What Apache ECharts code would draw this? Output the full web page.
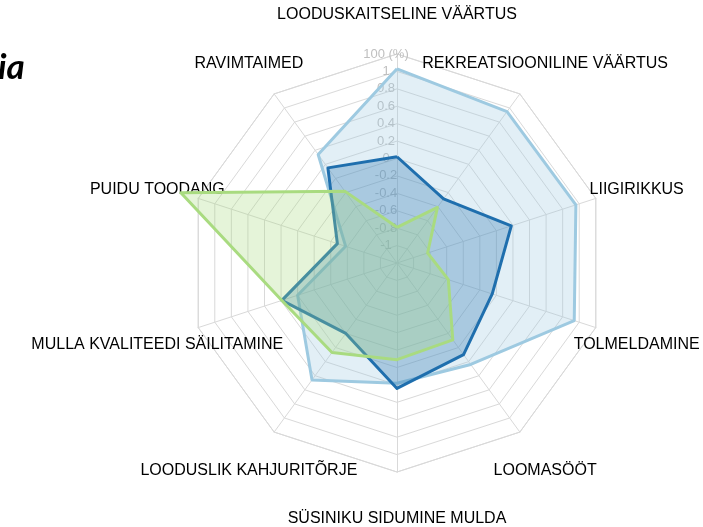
<!DOCTYPE html>
<html>
<head>
<meta charset="utf-8">
<script src="https://cdn.jsdelivr.net/npm/echarts@6/dist/echarts.min.js"></script>
<style>
html,body{margin:0;padding:0;background:#fff;}
#chart{width:703px;height:527px;}
</style>
</head>
<body>
<div id="chart"></div>
<script>
// Categories in clockwise order starting at the top
var categories = [
  'LOODUSKAITSELINE VÄÄRTUS',
  'REKREATSIOONILINE VÄÄRTUS',
  'LIIGIRIKKUS',
  'TOLMELDAMINE',
  'LOOMASÖÖT',
  'SÜSINIKU SIDUMINE MULDA',
  'LOODUSLIK KAHJURITÕRJE',
  'MULLA KVALITEEDI SÄILITAMINE',
  'PUIDU TOODANG',
  'RAVIMTAIMED'
];
var seriesLight = [1.03, 0.95, 0.96, 0.94, 0.24, 0.18, 0.46, 0.00, -0.58, 0.34];
var seriesDark  = [0.02, -0.29, 0.18, -0.05, 0.10, 0.24, -0.20, 0.19, -0.48, 0.15];
var seriesGreen = [-0.79, -0.41, -0.83, -0.58, -0.11, -0.09, 0.07, 0.19, 1.41, -0.18];
var axisMin = -1.2, axisMax = 1.2, axisStep = 0.2;
var topTickLabel = '100 (%)';

// ECharts radar lays indicators counter-clockwise; reorder to clockwise
function toCcw(arr){ return [arr[0]].concat(arr.slice(1).reverse()); }

var chart = echarts.init(document.getElementById('chart'), null, {renderer:'canvas'});
var cats = toCcw(categories);
var indicator = cats.map(function(n, i){
  var o = {name: n, min: axisMin, max: axisMax};
  if (i === 0) {
    o.axisLabel = {
      show: true,
      color: '#bfbfbf',
      fontSize: 13,
      fontFamily: 'Liberation Sans, Arial, sans-serif',
      align: 'center',
      verticalAlign: 'middle',
      margin: 11,
      formatter: function(v){
        if (Math.abs(v - axisMax) < 1e-6) return topTickLabel;
        if (v < axisMin + 1e-6) return '';
        return String(parseFloat(v.toFixed(1)));
      }
    };
  }
  return o;
});

var nameFont = {
  color: '#000',
  fontSize: 16,
  fontFamily: 'Liberation Sans, Arial, sans-serif'
};

var option = {
  animation: false,
  backgroundColor: '#ffffff',
  graphic: [{
    type: 'text', left: -2, top: 50,
    style: {text: 'ia', fill: '#000', font: 'italic bold 35px Lato, sans-serif'}
  }],
  radar: {
    center: [397, 263],
    radius: 209,
    startAngle: 90,
    shape: 'polygon',
    splitNumber: Math.round((axisMax - axisMin) / axisStep),
    nameGap: 43,
    axisName: {
      color: '#000',
      fontSize: 16,
      fontFamily: 'Liberation Sans, Arial, sans-serif',
      align: 'center',
      verticalAlign: 'middle',
      formatter: function(name){ return '{n|' + name + '}'; },
      rich: {
        n: {
          color: nameFont.color,
          fontSize: nameFont.fontSize,
          fontFamily: nameFont.fontFamily,
          padding: [8, 0, 0, 0]
        }
      }
    },
    axisLine: {lineStyle: {color: '#d9d9d9', width: 1}},
    splitLine: {lineStyle: {color: '#d9d9d9', width: 1}},
    splitArea: {show: false},
    axisTick: {show: false},
    axisLabel: {show: false},
    indicator: indicator
  },
  series: [{
    type: 'radar',
    symbol: 'none',
    z: 2,
    data: [
      {
        name: 'A', value: toCcw(seriesLight),
        lineStyle: {color: '#9ecae1', width: 3},
        areaStyle: {color: '#9ecae1', opacity: 0.3},
        itemStyle: {color: '#9ecae1'}
      },
      {
        name: 'B', value: toCcw(seriesDark),
        lineStyle: {color: '#1f6fae', width: 3},
        areaStyle: {color: '#1f6fae', opacity: 0.29},
        itemStyle: {color: '#1f6fae'}
      },
      {
        name: 'C', value: toCcw(seriesGreen),
        lineStyle: {color: '#a9db80', width: 3},
        areaStyle: {color: '#a9db80', opacity: 0.3},
        itemStyle: {color: '#a9db80'}
      }
    ]
  }]
};
chart.setOption(option);
</script>
</body>
</html>
